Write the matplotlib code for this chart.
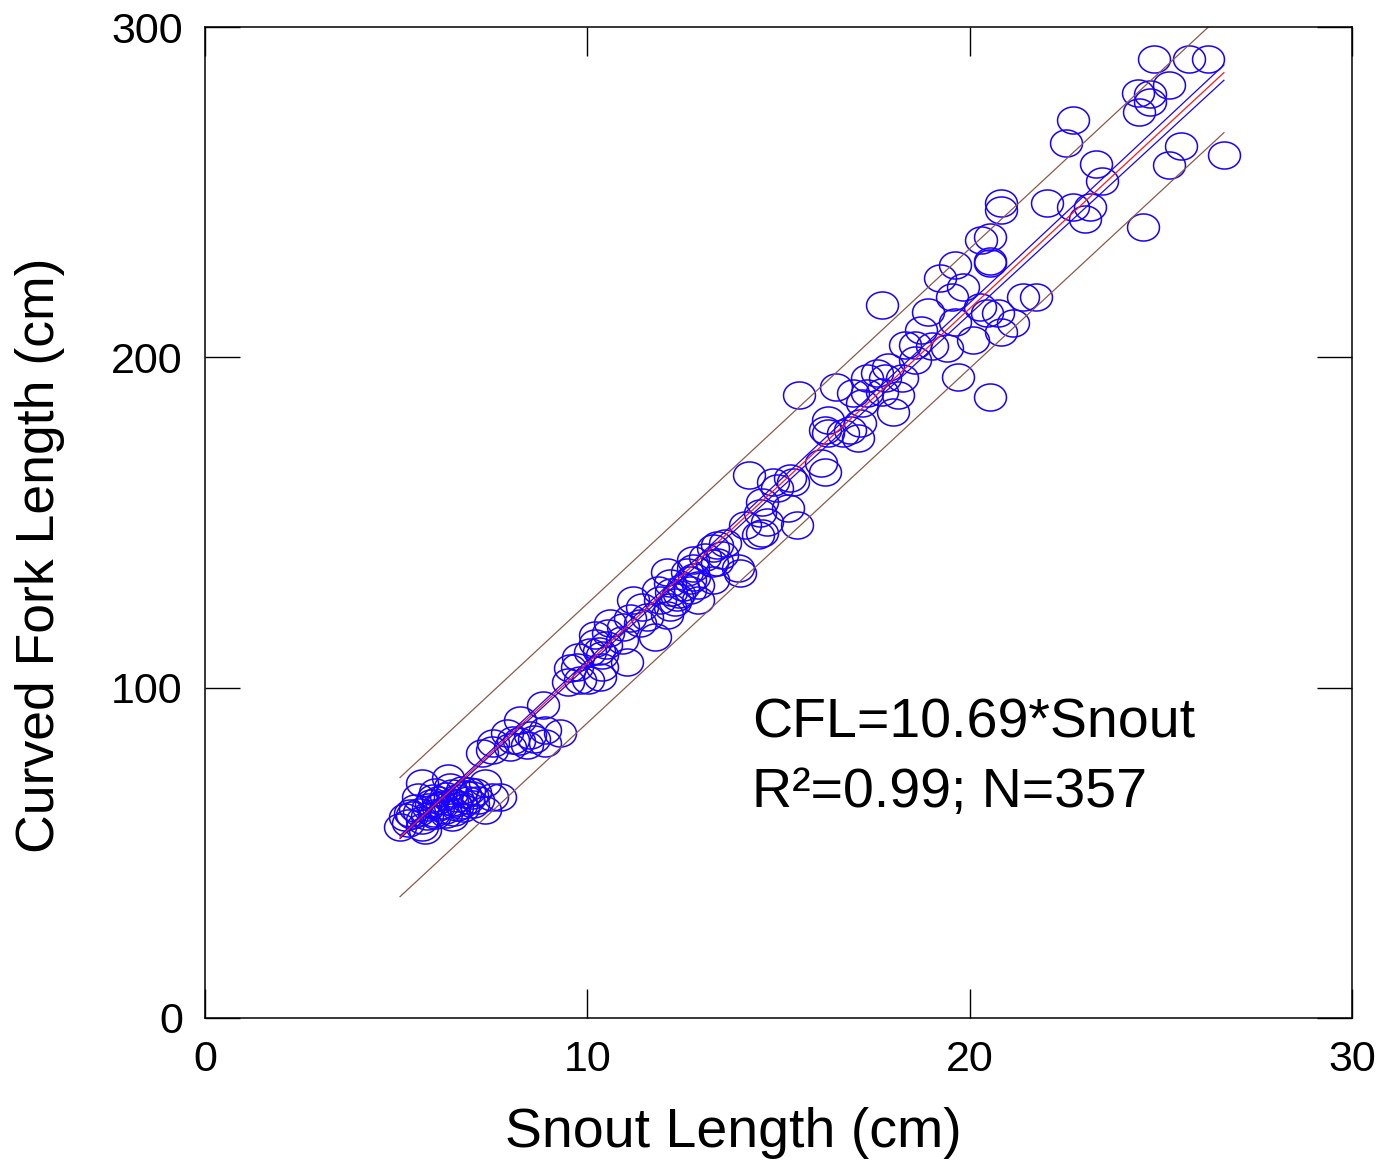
import numpy as np
import matplotlib
matplotlib.use('Agg')
import matplotlib.pyplot as plt
from matplotlib.path import Path

plt.rcParams['font.family'] = ['Liberation Sans', 'DejaVu Sans']

# snout length (cm) and curved fork length (cm)
snout = [24.82, 25.74, 26.24, 25.22, 24.41, 24.72, 24.72, 24.43, 22.70, 22.52,
         25.53, 26.65, 25.22, 23.31, 23.46, 22.02, 22.70, 23.15, 23.02, 24.54,
         20.82, 20.82, 20.53, 20.53, 20.30, 21.40, 21.74, 20.46, 20.74, 21.14,
         20.82, 19.62, 20.53, 19.23, 19.83, 19.54, 17.71, 20.27, 18.91, 19.62,
         18.73, 20.09, 18.31, 18.57, 19.02, 19.41, 18.57, 17.87, 17.58, 17.32,
         17.79, 18.23, 16.51, 19.70, 15.54, 16.95, 17.32, 17.71, 18.13, 17.19,
         18.00, 20.53, 16.30, 17.13, 16.22, 16.69, 17.08, 16.30, 16.87, 14.23,
         14.86, 15.30, 15.38, 16.22, 14.96, 14.57, 15.25, 14.52, 15.49, 14.13,
         14.70, 14.57, 14.47, 13.60, 13.29, 13.08, 12.76, 13.39, 13.94, 13.39,
         13.52, 13.99, 13.26, 12.76, 12.08, 12.69, 13.29, 12.16, 12.69, 12.35,
         12.90, 11.85, 12.16, 11.20, 11.43, 11.56, 11.38, 12.08, 11.12, 10.59,
         10.93, 10.54, 10.20, 11.77, 10.91, 10.20, 10.07, 9.76, 10.38, 11.04,
         9.73, 10.38, 10.33, 9.81, 9.55, 9.50, 10.02, 8.84, 8.24, 8.89,
         7.90, 8.50, 9.29, 7.53, 8.06, 8.89, 7.51, 7.98, 8.42, 7.25,
         5.68, 6.36, 7.32, 7.51, 7.06, 6.72, 6.46, 6.02, 5.57, 6.09,
         6.88, 7.14, 6.54, 5.49, 5.83, 6.28, 5.36, 6.02, 6.46, 5.68,
         5.23, 5.10, 5.68, 5.31, 6.75, 6.98, 6.41, 7.72, 7.32, 5.75,
         5.90, 6.20, 6.60, 6.80, 5.60, 6.00, 6.30, 6.50, 5.80, 6.70,
         7.00, 5.40, 6.10, 6.90, 6.30, 6.60, 5.95, 6.45, 16.10,
         12.40, 12.50, 12.80, 12.30, 12.60, 12.90, 11.90, 12.20, 10.30, 10.50,
         8.20, 8.60]
cfl = [290.3, 290.3, 290.3, 282.5, 280.0, 279.7, 277.3, 274.3, 271.9, 264.9,
       264.0, 261.3, 258.2, 258.5, 253.4, 246.7, 245.5, 245.5, 241.9, 239.5,
       246.7, 244.6, 236.5, 229.2, 235.5, 218.3, 218.3, 213.4, 213.4, 210.4,
       207.7, 228.0, 228.6, 224.0, 221.3, 218.3, 215.9, 215.3, 213.7, 210.7,
       208.3, 205.3, 203.8, 203.8, 203.4, 202.8, 199.2, 197.1, 195.3, 193.8,
       193.8, 193.8, 191.0, 194.1, 188.6, 189.2, 189.2, 189.5, 188.6, 186.2,
       183.5, 188.0, 181.0, 180.1, 178.0, 177.1, 175.6, 177.1, 178.0, 164.4,
       162.3, 163.5, 162.3, 165.3, 160.5, 156.2, 154.4, 152.9, 149.3, 149.3,
       150.2, 146.8, 146.2, 143.8, 142.3, 139.6, 138.7, 138.1, 136.2, 143.2,
       140.2, 134.7, 137.8, 136.2, 135.0, 132.6, 132.6, 131.7, 129.6, 127.5,
       126.6, 129.6, 124.4, 126.6, 124.4, 121.4, 119.6, 122.0, 121.1, 119.6,
       118.4, 116.6, 116.0, 115.3, 114.4, 113.5, 110.8, 109.3, 109.9, 107.8,
       106.3, 106.3, 103.2, 102.3, 106.0, 101.7, 102.3, 94.8, 90.2, 87.2,
       86.3, 85.7, 86.3, 83.3, 84.2, 83.3, 81.1, 82.0, 82.7, 80.2,
       71.1, 72.7, 71.1, 66.9, 68.4, 69.0, 68.1, 68.4, 66.9, 66.0,
       66.0, 66.0, 65.1, 63.6, 63.9, 63.0, 62.1, 61.5, 60.9, 59.9,
       60.9, 57.8, 57.8, 59.0, 63.6, 67.5, 69.9, 66.9, 63.0, 56.9,
       65.0, 64.5, 66.5, 67.8, 62.5, 62.0, 67.2, 62.5, 61.0, 64.5,
       64.8, 61.5, 63.8, 68.8, 61.8, 64.0, 66.5, 65.5, 168.0,
       128.5, 130.5, 133.5, 126.0, 135.0, 131.0, 126.5, 129.0, 111.0, 113.0,
       84.0, 84.5]

x = np.array(snout)
y = np.array(cfl)

# regression through the origin with confidence / prediction bands
slope = np.sum(x * y) / np.sum(x * x)
resid = y - slope * x
s = np.sqrt(np.sum(resid ** 2) / (len(x) - 1))
xs = np.sort(x)
fit = slope * xs
conf = 1.96 * s * xs / np.sqrt(np.sum(x * x))
pred = 1.96 * s * np.sqrt(1 + xs ** 2 / np.sum(x * x))

t = np.linspace(0, 2 * np.pi, 60)
ellipse = Path(np.column_stack([1.18 * np.cos(t), np.sin(t)]))

fig = plt.figure(figsize=(13.79, 11.65), dpi=100)
ax = fig.add_axes([0.1487, 0.1262, 0.8317, 0.8506])

ax.plot(x, y, linestyle='none', marker=ellipse, markersize=23,
        markerfacecolor='none', markeredgecolor='#1a00ff', markeredgewidth=1.1)
ax.plot(xs, fit + pred, color='#8b5a4b', lw=0.9)
ax.plot(xs, fit - pred, color='#8b5a4b', lw=0.9)
ax.plot(xs, fit + conf, color='#1a00ff', lw=0.9)
ax.plot(xs, fit - conf, color='#1a00ff', lw=0.9)
ax.plot(xs, fit, color='#ff1a1a', lw=0.9)

ax.set_xlim(0, 30)
ax.set_ylim(0, 300)
ax.set_xticks([0, 10, 20, 30])
ax.set_yticks([0, 100, 200, 300])
ax.tick_params(direction='in', top=True, right=True, width=1, labelsize=31)
ax.tick_params(axis='x', length=21, pad=16)
ax.tick_params(axis='y', length=25, pad=16)
for sp in ax.spines.values():
    sp.set_linewidth(1.1)

ax.text(14.31, 89.0, 'CFL=10.69*Snout', fontsize=40, ha='left', va='center')
ax.text(14.31, 68.0, 'R²=0.99; N=357', fontsize=40, ha='left', va='center')

fig.text(733 / 1379, 1 - 1133 / 1165, 'Snout Length (cm)', fontsize=40,
         ha='center', va='center')
fig.text(40 / 1379, 1 - 555 / 1165, 'Curved Fork Length (cm)', fontsize=38.5,
         ha='center', va='center', rotation=90)

fig.savefig('out.png', dpi=100)
